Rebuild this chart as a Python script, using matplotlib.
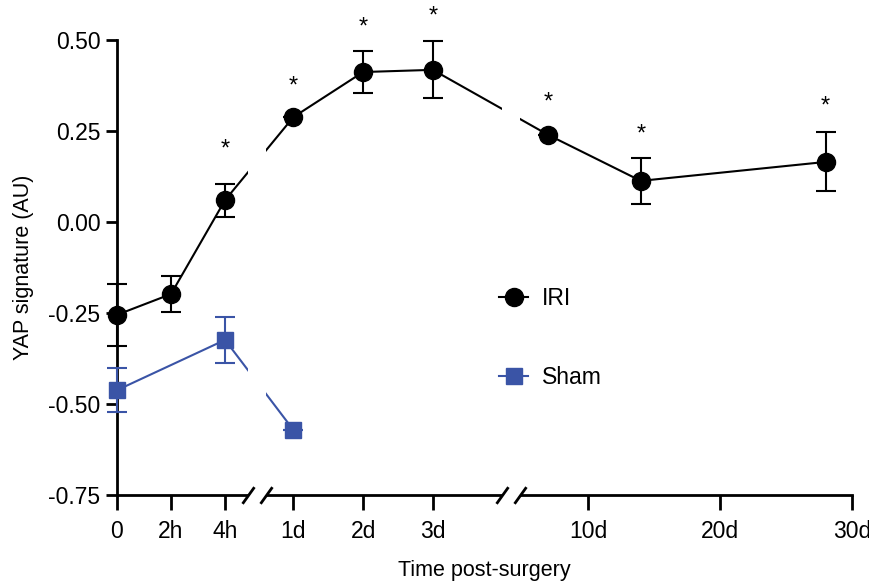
import numpy as np
import matplotlib.pyplot as plt
from matplotlib.lines import Line2D

plt.rcParams['font.family'] = ['Liberation Sans', 'DejaVu Sans']

# time in hours
hours = [0, 2, 4, 24, 48, 72, 168, 336, 672]
iri_mean = [-0.255, -0.198, 0.060, 0.288, 0.412, 0.418, 0.239, 0.113, 0.165]
iri_err = [0.085, 0.050, 0.045, 0.0, 0.057, 0.078, 0.0, 0.063, 0.081]
# height of the significance star (None = not significant)
star_y = [None, None, 0.21, 0.385, 0.545, 0.577, 0.34, 0.253, 0.33]

sham_hours = [0, 4, 24]
sham_mean = [-0.462, -0.324, -0.571]
sham_err = [0.060, 0.063, 0.0]

tick_hours = [0, 2, 4, 24, 48, 72, 240, 480, 720]
tick_labels = ['0', '2h', '4h', '1d', '2d', '3d', '10d', '20d', '30d']

# broken axis: data hours -> plotted units
brk_data = [0, 4.85, 14.6, 95.8, 116.4, 720]
brk_plot = [0, 131, 149, 385, 403, 735]
gaps = [(4.85, 14.6), (95.8, 116.4)]

def fwd(x):
    return np.interp(x, brk_data, brk_plot)

def inv(u):
    return np.interp(u, brk_plot, brk_data)

blue = '#3a54a6'
fs = 16.5

fig = plt.figure(figsize=(8.7, 5.83), dpi=100)
ax = fig.add_axes([117/870, 1-495/583, (852-117)/870, (495-40)/583])
ax.set_xscale('function', functions=(fwd, inv))

# connecting lines (cut at the breaks below)
ax.plot(hours, iri_mean, color='black', lw=1.5, zorder=2)
ax.plot(sham_hours, sham_mean, color=blue, lw=1.5, zorder=2)

# markers + error bars
ax.errorbar(hours, iri_mean, yerr=iri_err, color='black', fmt='o', ms=13,
            elinewidth=1.5, capsize=7, capthick=1.5, clip_on=False, zorder=3)
ax.errorbar(sham_hours, sham_mean, yerr=sham_err, color=blue, fmt='s', ms=12,
            elinewidth=1.5, capsize=7, capthick=1.5, clip_on=False, zorder=3)

# significance stars ('*' glyph sits high in its box, so nudge down a bit)
for h, sy in zip(hours, star_y):
    if sy is not None:
        ax.text(h, sy - 0.012, '*', ha='center', va='center',
                fontsize=17, clip_on=False)

ax.set_xlim(0, 720)
ax.set_ylim(-0.75, 0.5)
ax.set_yticks([-0.75, -0.5, -0.25, 0, 0.25, 0.5])
ax.set_yticklabels(['-0.75', '-0.50', '-0.25', '0.00', '0.25', '0.50'])
ax.set_xticks(tick_hours)
ax.set_xticklabels(tick_labels)
ax.minorticks_off()

for s in ['top', 'right']:
    ax.spines[s].set_visible(False)
for s in ['left', 'bottom']:
    ax.spines[s].set_linewidth(2)
ax.tick_params(axis='both', width=2, length=8, labelsize=fs, pad=4)
ax.tick_params(axis='x', length=11, pad=7)

# cut the axis and lines at the breaks
for g0, g1 in gaps:
    ax.axvspan(g0, g1, ymin=-0.03, ymax=1, color='white', zorder=2.6,
               clip_on=False, lw=0)
    for g in (g0, g1):
        ax.plot([g], [0], transform=ax.get_xaxis_transform(),
                marker=[(-1, -1.4), (1, 1.4)], ms=12, mew=2, color='black',
                clip_on=False, zorder=4)

ax.set_ylabel('YAP signature (AU)', fontsize=15.5, labelpad=10)
ax.set_xlabel('Time post-surgery', fontsize=15.5, labelpad=12)

handles = [Line2D([], [], color='black', lw=1.5, marker='o', ms=13),
           Line2D([], [], color=blue, lw=1.5, marker='s', ms=12)]
ax.legend(handles, ['IRI', 'Sham'], loc='upper left',
          bbox_to_anchor=(478/870, 1-266/583), bbox_transform=fig.transFigure,
          frameon=False, fontsize=fs, handlelength=1.3, labelspacing=2.45,
          handletextpad=0.6)

fig.savefig('out.png', dpi=100)
